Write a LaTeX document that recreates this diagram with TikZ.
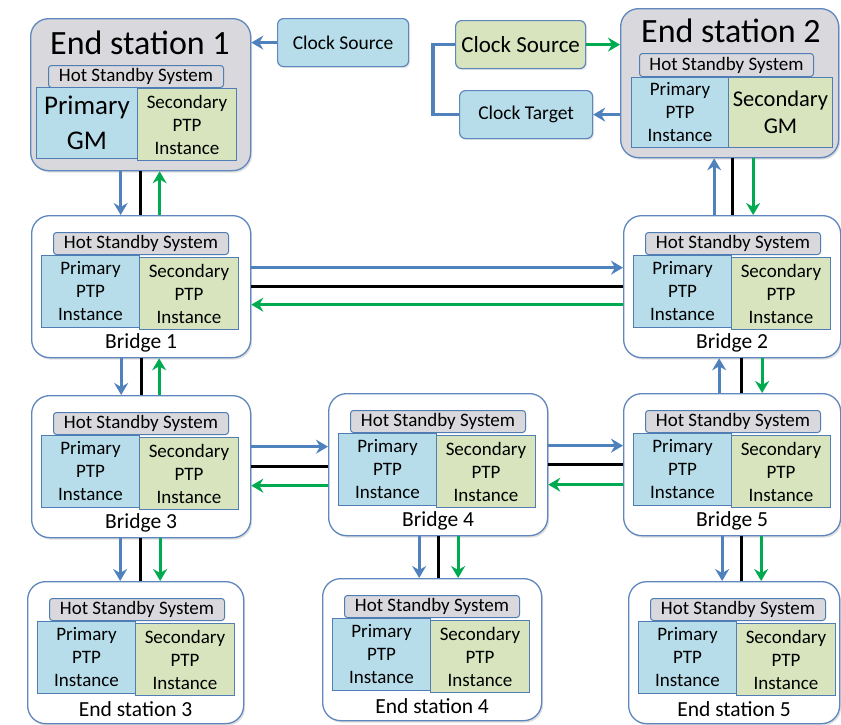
\documentclass[tikz,border=0pt]{standalone}
\usepackage{fontspec}
\setmainfont{Carlito}
\usetikzlibrary{arrows.meta,shadows}

\definecolor{lnblue}{RGB}{79,129,189}
\definecolor{lngreen}{RGB}{0,170,80}
\definecolor{boxedge}{RGB}{95,135,190}
\definecolor{inedge}{RGB}{79,125,180}
\definecolor{fillblue}{RGB}{183,221,234}
\definecolor{fillgreen}{RGB}{215,228,189}
\definecolor{fillgray}{RGB}{217,217,221}

\tikzset{
  x=1pt, y=-1pt,
  outerbox/.style={draw=boxedge, line width=1.3pt, rounded corners=18pt, fill=white,
    drop shadow={shadow xshift=1.5pt, shadow yshift=-2pt, opacity=.25},
    anchor=north west, inner sep=0pt, minimum height=142pt},
  graybox/.style={outerbox, fill=fillgray},
  hsbox/.style={draw=inedge, line width=1pt, fill=fillgray, rounded corners=3pt,
    minimum width=175pt, minimum height=22pt, anchor=north west, inner sep=0pt,
    font=\fontsize{19}{22}\selectfont},
  primbox/.style={draw=inedge, line width=1pt, fill=fillblue, minimum width=98pt,
    minimum height=72pt, anchor=north west, inner sep=0pt, align=center,
    font=\fontsize{19}{23}\selectfont},
  secbox/.style={primbox, fill=fillgreen, minimum width=99pt},
  unitlabel/.style={inner sep=0pt, font=\fontsize{21.5}{24}\selectfont},
  clockbox/.style={draw=boxedge, line width=1.2pt, rounded corners=6pt, fill=fillblue,
    anchor=north west, inner sep=0pt, minimum height=48pt,
    drop shadow={shadow xshift=1.5pt, shadow yshift=-1.5pt, opacity=.2},
    font=\fontsize{19.5}{22}\selectfont},
  blueln/.style={draw=lnblue, line width=3pt},
  greenln/.style={draw=lngreen, line width=3pt},
  blackln/.style={draw=black, line width=3pt},
  tip/.style={-{Stealth[length=12pt,width=14pt,inset=4pt]}},
}

% One hot-standby unit: name, left, top, width, caption
\newcommand\ptpunit[5]{%
  \node[outerbox, minimum width=#4pt] (#1) at (#2,#3) {};
  \node[hsbox] (#1-hs) at ([xshift=22pt,yshift=-17pt]#1.north west) {Hot Standby System};
  \node[primbox] (#1-p) at ([xshift=10pt,yshift=-40pt]#1.north west) {Primary\\PTP\\Instance};
  \node[secbox] (#1-s) at ([xshift=108pt,yshift=-42pt]#1.north west) {Secondary\\PTP\\Instance};
  \node[unitlabel] (#1-l) at ([yshift=-128pt]#1.north) {#5};
}

\begin{document}
\begin{tikzpicture}
\useasboundingbox (0,0) rectangle (841,724);

% ---- End station 1 (grandmaster) ----
\node[graybox, minimum width=220pt, minimum height=152pt] (es1) at (30,18) {};
\node[inner sep=0pt, font=\fontsize{34}{40}\selectfont] (es1-t) at (140,43) {End station 1};
\node[hsbox] (es1-hs) at (48,65) {Hot Standby System};
\node[primbox, minimum width=101pt, minimum height=71pt, font=\fontsize{27}{35}\selectfont] (es1-p) at (36,87) {Primary\\GM};
\node[secbox, minimum width=99pt] (es1-s) at (137,88) {Secondary\\PTP\\Instance};

% ---- End station 2 (secondary grandmaster) ----
\node[graybox, minimum width=218pt, minimum height=149pt] (es2) at (620,8) {};
\node[inner sep=0pt, font=\fontsize{34}{40}\selectfont] (es2-t) at (731,31) {End station 2};
\node[hsbox, minimum width=174pt, minimum height=23pt] (es2-hs) at (639,53) {Hot Standby System};
\node[primbox, minimum width=97pt, minimum height=70pt] (es2-p) at (631,77) {Primary\\PTP\\Instance};
\node[secbox, minimum width=104pt, minimum height=70pt, font=\fontsize{22.5}{27}\selectfont] (es2-s) at (728,77) {Secondary\\GM};

% ---- Clocks ----
\node[clockbox, minimum width=131pt] (cs1) at (277,18) {Clock Source};
\node[clockbox, minimum width=130pt, fill=fillgreen, font=\fontsize{23}{26}\selectfont] (cs2) at (455,20) {Clock Source};
\node[clockbox, minimum width=133pt] (ct) at (459,90) {Clock Target};

% ---- Bridges and end stations ----
\ptpunit{b1}{31}{215}{219}{Bridge 1}
\ptpunit{b2}{623}{215}{217}{Bridge 2}
\ptpunit{b3}{31}{395}{219}{Bridge 3}
\ptpunit{b4}{328}{393}{219}{Bridge 4}
\ptpunit{b5}{623}{393}{217}{Bridge 5}
\ptpunit{es3}{27}{581}{216}{End station 3}
\ptpunit{es4}{322}{578}{219}{End station 4}
\ptpunit{es5}{628}{581}{211}{End station 5}

% ---- Clock connections ----
\draw[blueln, tip] (cs1.west) -- (cs1.west -| es1.east);
\draw[greenln, tip] (cs2.east) -- (cs2.east -| es2.west);
\draw[blueln, tip] (ct.east -| es2.west) -- (ct.east);
\draw[blueln, line width=3.5pt] (cs2.west) -- ++(-22,0) |- (ct.west);

% ---- End station 1 <-> Bridge 1 ----
\draw[blueln, tip] ([xshift=-20pt]es1.south) -- ([xshift=-20pt]es1.south |- b1.north);
\draw[blackln] (es1.south) -- (es1.south |- b1.north);
\draw[greenln, tip] ([xshift=19pt]es1.south |- b1.north) -- ([xshift=19pt]es1.south);

% ---- End station 2 <-> Bridge 2 ----
\draw[blueln, tip] ([xshift=-18pt]b2.north) -- ([xshift=-18pt]b2.north |- es2.south);
\draw[blackln] (b2.north) -- (b2.north |- es2.south);
\draw[greenln, tip] ([xshift=21pt]b2.north |- es2.south) -- ([xshift=21pt]b2.north);

% ---- Bridge 1 <-> Bridge 2 ----
\draw[blueln, tip] ([yshift=19pt]b1.east) -- ([yshift=19pt]b1.east -| b2.west);
\draw[blackln] (b1.east) -- (b1.east -| b2.west);
\draw[greenln, tip] ([yshift=-18pt]b1.east -| b2.west) -- ([yshift=-18pt]b1.east);

% ---- Bridge 1 <-> Bridge 3 ----
\draw[blueln, tip] ([xshift=-20pt]b1.south) -- ([xshift=-20pt]b1.south |- b3.north);
\draw[blackln] (b1.south) -- (b1.south |- b3.north);
\draw[greenln, tip] ([xshift=18pt]b1.south |- b3.north) -- ([xshift=18pt]b1.south);

% ---- Bridge 2 <-> Bridge 5 ----
\draw[blueln, tip] ([xshift=-13pt]b5.north) -- ([xshift=-13pt]b5.north |- b2.south);
\draw[blackln] ([xshift=9pt]b5.north) -- ([xshift=9pt]b5.north |- b2.south);
\draw[greenln, tip] ([xshift=30pt]b5.north |- b2.south) -- ([xshift=30pt]b5.north);

% ---- Bridge 3 <-> Bridge 4 ----
\draw[blueln, tip] ([yshift=20pt]b3.east) -- ([yshift=20pt]b3.east -| b4.west);
\draw[blackln] (b3.east) -- (b3.east -| b4.west);
\draw[greenln, tip] ([yshift=-19pt]b3.east -| b4.west) -- ([yshift=-19pt]b3.east);

% ---- Bridge 4 <-> Bridge 5 ----
\draw[blueln, tip] ([yshift=19pt]b4.east) -- ([yshift=19pt]b4.east -| b5.west);
\draw[blackln] (b4.east) -- (b4.east -| b5.west);
\draw[greenln, tip] ([yshift=-20pt]b4.east -| b5.west) -- ([yshift=-20pt]b4.east);

% ---- Bridges -> end stations 3, 4, 5 ----
\draw[blueln, tip] ([xshift=-21pt]b3.south) -- ([xshift=-21pt]b3.south |- es3.north);
\draw[blackln] ([xshift=-1pt]b3.south) -- ([xshift=-1pt]b3.south |- es3.north);
\draw[greenln, tip] ([xshift=19pt]b3.south) -- ([xshift=19pt]b3.south |- es3.north);

\draw[blueln, tip] ([xshift=-19pt]b4.south) -- ([xshift=-19pt]b4.south |- es4.north);
\draw[blackln] (b4.south) -- (b4.south |- es4.north);
\draw[greenln, tip] ([xshift=20pt]b4.south) -- ([xshift=20pt]b4.south |- es4.north);

\draw[blueln, tip] ([xshift=-10pt]b5.south) -- ([xshift=-10pt]b5.south |- es5.north);
\draw[blackln] ([xshift=9pt]b5.south) -- ([xshift=9pt]b5.south |- es5.north);
\draw[greenln, tip] ([xshift=29pt]b5.south) -- ([xshift=29pt]b5.south |- es5.north);
\end{tikzpicture}
\end{document}
